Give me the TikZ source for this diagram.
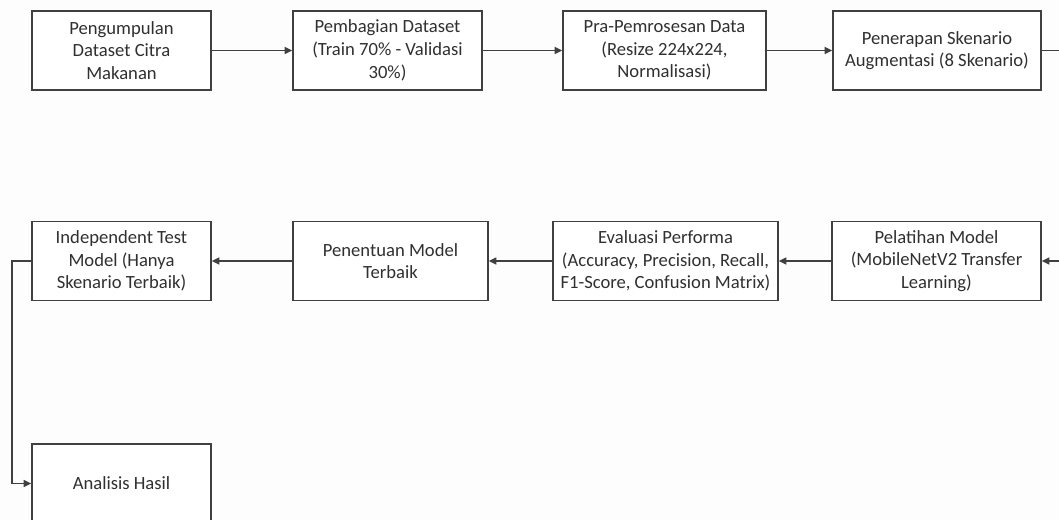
\documentclass[tikz,border=0pt]{standalone}
\usepackage{fontspec}
\setmainfont{Carlito}
\usepackage{tikz}
\usetikzlibrary{arrows.meta,positioning,calc}

\definecolor{edgegray}{HTML}{404040}
\definecolor{textgray}{HTML}{303030}

\begin{document}
\begin{tikzpicture}[line width=0.9pt,
  every node/.style={font=\fontsize{10.6}{12.9}\selectfont,text=textgray},
  stage/.style={draw=edgegray,fill=white,align=center,minimum height=1.58cm,inner sep=2pt},
  flow/.style={draw=edgegray,-{Triangle[length=1.5mm,width=1.4mm]}}]
\useasboundingbox (0,0) rectangle (21.18,10.4);
\clip (0,0) rectangle (21.18,10.4);
\fill[white!99.3!black] (0,0) rectangle (21.18,10.4);
% first row
\node[stage,minimum width=3.58cm] (collect) at (2.43,9.39) {Pengumpulan\\Dataset Citra\\Makanan};
\node[stage,minimum width=3.78cm] (split) at (7.75,9.39) {Pembagian Dataset\\(Train 70\% - Validasi\\30\%)};
\node[stage,minimum width=4.06cm] (prep) at (13.29,9.39) {Pra-Pemrosesan Data\\(Resize 224x224,\\Normalisasi)};
\node[stage,minimum width=4.16cm] (aug) at (18.74,9.39) {Penerapan Skenario\\Augmentasi (8 Skenario)};
% second row
\node[stage,minimum width=4.18cm] (train) at (18.73,5.18) {Pelatihan Model\\(MobileNetV2 Transfer\\Learning)};
\node[stage,minimum width=4.5cm] (eval) at (13.31,5.18) {Evaluasi Performa\\(Accuracy, Precision, Recall,\\F1-Score, Confusion Matrix)};
\node[stage,minimum width=3.9cm] (best) at (7.81,5.18) {Penentuan Model\\Terbaik};
\node[stage,minimum width=3.58cm] (test) at (2.43,5.18) {Independent Test\\Model (Hanya\\Skenario Terbaik)};
% third row
\node[stage,minimum width=3.58cm] (result) at (2.43,0.73) {Analisis Hasil};

\foreach \a/\b in {collect/split,split/prep,prep/aug,train/eval,eval/best,best/test}
  \draw[flow] (\a) -- (\b);
% wrap round the right edge
\coordinate (turn) at (21.5,7.3);
\draw[flow] (aug.east) -| (turn) |- (train.east);
\draw[flow] (test.west) -- ++(-0.38,0) |- (result.west);
\end{tikzpicture}
\end{document}
